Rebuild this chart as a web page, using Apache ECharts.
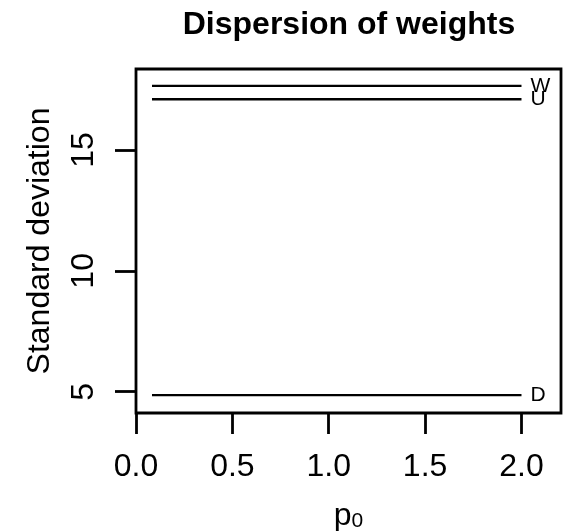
<!DOCTYPE html>
<html lang="en">
<head>
    <meta charset="UTF-8">
    <title>Dispersion of weights</title>
    <style>
      * { padding: 0; margin: 0; }
      body { background: #fff; }
   </style>
</head>
<body>
    <div id="main" style="width: 567px;height:531px;"></div>
    <script src="https://cdn.jsdelivr.net/npm/echarts@6/dist/echarts.min.js"></script>
    <script>
        // data
        var seriesNames = ['W', 'U', 'D'];
        var sdValues = [17.65, 17.10, 4.86];   // standard deviation per weight type
        var p0Range = [0.083, 2.0];            // p0 span of each line
        var xTicks = [0, 0.5, 1.0, 1.5, 2.0];
        var yTicks = [5, 10, 15];

        var font = 'Liberation Sans, Arial, Helvetica, sans-serif';

        var series = seriesNames.map(function (name, i) {
            return {
                name: name,
                type: 'line',
                data: [[p0Range[0], sdValues[i]], [p0Range[1], sdValues[i]]],
                symbol: 'none',
                lineStyle: { color: '#000', width: 2.4 },
                endLabel: {
                    show: true,
                    formatter: '{a}',
                    color: '#000',
                    fontFamily: font,
                    fontSize: 21,
                    distance: 9
                },
                animation: false
            };
        });

        option = {
            animation: false,
            title: {
                text: 'Dispersion of weights',
                left: 349,
                top: 9,
                textAlign: 'center',
                padding: 0,
                textStyle: { fontFamily: font, fontSize: 32, fontWeight: 'bold', color: '#000' }
            },
            grid: {
                left: 136,
                right: 6,
                top: 69,
                bottom: 118,
                show: true,
                borderColor: '#000',
                borderWidth: 2.8,
                containLabel: false,
                outerBoundsMode: 'none'
            },
            xAxis: {
                type: 'value',
                min: 0,
                max: 2.205,
                name: '{p|p}{s|0}',
                nameLocation: 'middle',
                nameGap: 87,
                nameTextStyle: {
                    rich: {
                        p: { fontFamily: font, fontSize: 32, color: '#000' },
                        s: { fontFamily: font, fontSize: 21, color: '#000', verticalAlign: 'bottom', padding: [10, 0, 0, 0] }
                    }
                },
                axisLine: { show: false },
                splitLine: { show: false },
                axisTick: {
                    show: true,
                    customValues: xTicks,
                    length: 21,
                    lineStyle: { color: '#000', width: 2.8 }
                },
                axisLabel: {
                    customValues: xTicks,
                    formatter: function (v) { return v.toFixed(1); },
                    margin: 38,
                    color: '#000',
                    fontFamily: font,
                    fontSize: 32
                }
            },
            yAxis: {
                type: 'value',
                min: 4.12,
                max: 18.35,
                name: 'Standard deviation',
                nameLocation: 'middle',
                nameGap: 80,
                nameTextStyle: { fontFamily: font, fontSize: 32, color: '#000' },
                axisLine: { show: false },
                splitLine: { show: false },
                axisTick: {
                    show: true,
                    customValues: yTicks,
                    length: 21,
                    lineStyle: { color: '#000', width: 2.8 }
                },
                axisLabel: {
                    customValues: yTicks,
                    rotate: 90,
                    margin: 36,
                    color: '#000',
                    fontFamily: font,
                    fontSize: 32
                }
            },
            series: series
        };

        var myChart = echarts.init(document.getElementById('main'));
        myChart.setOption(option);
    </script>
</body>
</html>
